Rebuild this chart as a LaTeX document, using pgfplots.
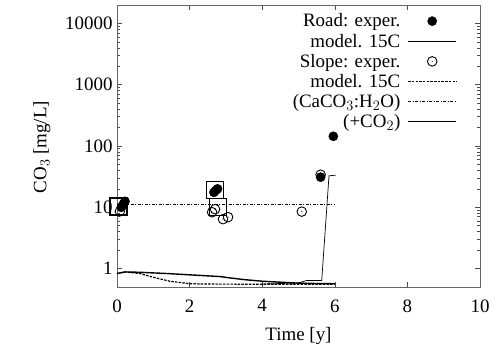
\documentclass[border=0pt]{standalone}
\usepackage{pgfplots}
\pgfplotsset{compat=1.18}
\usepackage{fontspec}
\setmainfont{Liberation Serif}

% open circle with a centre dot
\pgfdeclareplotmark{odot}{%
  \pgfpathcircle{\pgfpointorigin}{\pgfplotmarksize}\pgfusepathqstroke
  \pgfpathcircle{\pgfpointorigin}{0.6bp}\pgfusepathqfill}

\begin{document}
\begin{tikzpicture}
\begin{axis}[
  at={(0,0)}, anchor=south west,
  scale only axis, width=363bp, height=282bp,
  xmin=0, xmax=10, ymin=0.5, ymax=20000,
  ymode=log,
  axis line style={black!60, line width=0.8bp},
  tick style={black!70, line width=0.6bp},
  major tick length=5bp, minor tick length=3bp,
  tick align=inside,
  xtick={0,2,4,6,8,10},
  ytick={1,10,100,1000,10000},
  yticklabels={1,10,100,1000,10000},
  /pgf/number format/assume math mode=true,
  font=\fontsize{19}{21}\selectfont,
  xlabel={Time [y]},
  ylabel={CO$_3$ [mg/L]},
  xlabel style={at={(axis description cs:0.5,-0.172)}, anchor=center},
  ylabel style={at={(axis description cs:-0.207,0.496)}, anchor=center, rotate=0},
  xticklabel style={yshift=-9bp},
  yticklabel style={xshift=-1bp},
  legend cell align=right,
  legend plot pos=right,
  legend style={draw=none, fill=none, at={(rel axis cs:0.94,0.98)}, anchor=north east,
    font=\fontsize{19}{21}\selectfont, row sep=1.5bp, inner sep=1bp},
  legend image code/.code={\path (0cm,0cm) (1.88cm,0cm);
    \draw[mark repeat=2, mark phase=2, #1]
    plot coordinates {(0.18cm,0cm) (1.03cm,0cm) (1.88cm,0cm)};},
]
% road, measured
\addplot[only marks, mark=*, mark size=4.6bp, black] coordinates {
  (0.12,10.0) (0.15,10.6) (0.18,11.4) (0.22,12.5)
  (2.67,17.5) (2.72,18.8) (2.77,20.0)
  (5.61,31.0) (5.96,144.0)
};
\addlegendentry{Road: exper.}
% road, model at 15C
\addplot[black, line width=1.4bp] coordinates {
  (0,0.83) (0.22,0.88) (0.6,0.87) (1.37,0.83) (2.0,0.79) (2.84,0.74)
  (3.06,0.71) (3.5,0.66) (4.02,0.62) (4.95,0.58) (5.5,0.57) (6.0,0.565)
};
\addlegendentry{model. 15C}
% slope, measured
\addplot[only marks, mark=odot, mark size=4.8bp, black, line width=0.9bp] coordinates {
  (0.08,8.6)
  (2.62,8.3) (2.70,9.3) (2.92,6.4) (3.06,6.9)
  (5.09,8.5) (5.61,34.0)
};
\addlegendentry{Slope: exper.}
% slope, model at 15C
\addplot[black, line width=1.2bp, dash pattern=on 2.5bp off 1.2bp] coordinates {
  (0,0.83) (0.22,0.88) (0.63,0.83) (1.0,0.72) (1.46,0.62) (2.01,0.565)
  (2.5,0.558) (4.0,0.555) (6.0,0.555)
};
\addlegendentry{model. 15C}
% saturation with CaCO3 in water
\addplot[black, line width=1.0bp, dash pattern=on 3bp off 1.5bp on 1bp off 1.5bp] coordinates {
  (0,11.0) (6.0,11.0)
};
\addlegendentry{(CaCO$_3$:H$_2$O)}
% with added CO2
\addplot[black, line width=0.7bp] coordinates {
  (4.0,0.56) (4.99,0.58) (5.23,0.64) (5.64,0.64) (5.84,32.6) (6.02,33.4)
};
\addlegendentry{(+CO$_2$)}
% highlighted samples
\addplot[only marks, mark=square, mark size=8.5bp, black, line width=1.1bp, forget plot] coordinates {
  (0.04,10.3) (2.69,19.0) (2.77,10.2)
};
\end{axis}
\path[use as bounding box] (-117bp,-60bp) rectangle (379bp,287bp);
\end{tikzpicture}
\end{document}
